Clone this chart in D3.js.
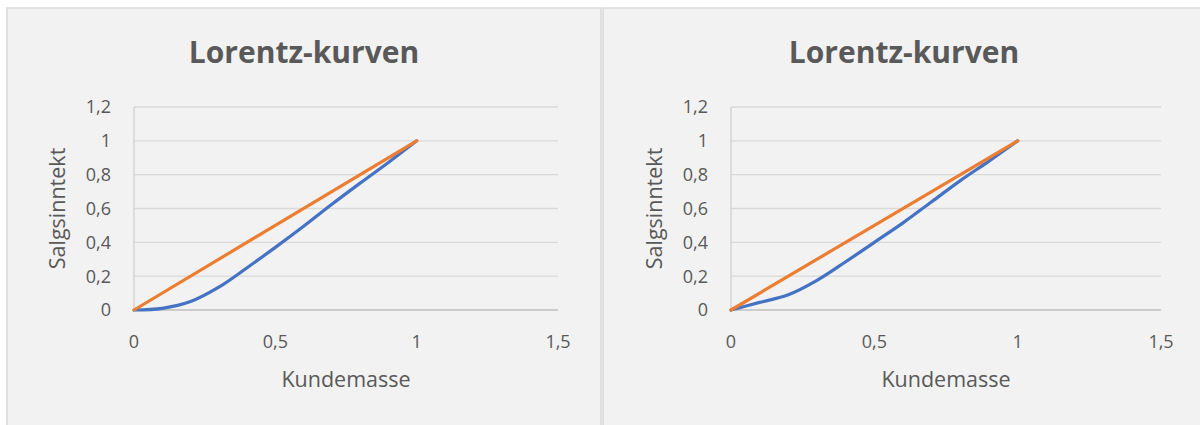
<!DOCTYPE html>
<html>
<head>
<meta charset="utf-8">
<script src="https://cdn.jsdelivr.net/npm/d3@7"></script>
<style>
  html, body { margin: 0; padding: 0; background: #ffffff; }
  svg { display: block; }
  text { font-family: "Open Sans", "Noto Sans", sans-serif; fill: #595959; }
</style>
</head>
<body>
<script>
// ---- Data ----
const chartTitle = "Lorentz-kurven";
const xAxisTitle = "Kundemasse";
const yAxisTitle = "Salgsinntekt";
const xTicks = [0, 0.5, 1, 1.5];
const yTicks = [0, 0.2, 0.4, 0.6, 0.8, 1, 1.2];

// Left chart: Lorenz curve (blue)
const leftCurveX = [0, 0.1, 0.2, 0.3, 0.4, 0.5, 0.6, 0.7, 0.8, 0.9, 1];
const leftCurveY = [0, 0.01, 0.05, 0.135, 0.25, 0.37, 0.495, 0.625, 0.75, 0.872, 1];
// Right chart: Lorenz curve (blue)
const rightCurveX = [0, 0.1, 0.2, 0.3, 0.4, 0.5, 0.6, 0.7, 0.8, 0.9, 1];
const rightCurveY = [0, 0.045, 0.09, 0.175, 0.285, 0.4, 0.515, 0.64, 0.765, 0.88, 1];
// Equality line (orange)
const equalX = [0, 1];
const equalY = [0, 1];

const W = 1200, H = 425;
const svg = d3.select("body").append("svg").attr("width", W).attr("height", H);
svg.append("rect").attr("width", W).attr("height", H).attr("fill", "#ffffff");

const fmt = v => String(v).replace(".", ",");

function drawChart(panel, plot, curveX, curveY) {
  const g = svg.append("g");
  g.append("rect")
    .attr("x", panel.x).attr("y", panel.y)
    .attr("width", panel.w).attr("height", panel.h)
    .attr("fill", "#f2f2f2").attr("stroke", "#d9d9d9").attr("stroke-width", 1.5);

  const x = d3.scaleLinear().domain([0, 1.5]).range([plot.x0, plot.x1]);
  const y = d3.scaleLinear().domain([0, 1.2]).range([plot.y0, plot.y1]);

  // gridlines
  g.append("g").selectAll("line").data(yTicks.filter(t => t > 0)).join("line")
    .attr("x1", x(0)).attr("x2", x(1.5))
    .attr("y1", d => y(d)).attr("y2", d => y(d))
    .attr("stroke", "#d9d9d9").attr("stroke-width", 1.3);

  // y axis line
  g.append("line").attr("x1", x(0)).attr("x2", x(0))
    .attr("y1", y(0)).attr("y2", y(1.2))
    .attr("stroke", "#d0d0d0").attr("stroke-width", 1.3);
  // x axis line
  g.append("line").attr("x1", x(0)).attr("x2", x(1.5))
    .attr("y1", y(0)).attr("y2", y(0))
    .attr("stroke", "#bfbfbf").attr("stroke-width", 1.5);

  // y tick labels
  g.append("g").selectAll("text").data(yTicks).join("text")
    .attr("x", x(0) - 23).attr("y", d => y(d))
    .attr("dy", "0.36em").attr("text-anchor", "end")
    .attr("font-size", 18).text(fmt);

  // x tick labels
  g.append("g").selectAll("text").data(xTicks).join("text")
    .attr("x", d => x(d)).attr("y", plot.y0 + 38)
    .attr("text-anchor", "middle")
    .attr("font-size", 18).text(fmt);

  // title
  g.append("text")
    .attr("x", panel.x + panel.titleCx).attr("y", 63)
    .attr("text-anchor", "middle")
    .attr("font-size", 30).attr("font-weight", "bold")
    .text(chartTitle);

  // axis titles
  g.append("text")
    .attr("x", (x(0) + x(1.5)) / 2).attr("y", 387)
    .attr("text-anchor", "middle").attr("font-size", 21.5)
    .text(xAxisTitle);
  g.append("text")
    .attr("transform", `translate(${x(0) - 69},${(y(0) + y(1.2)) / 2}) rotate(-90)`)
    .attr("text-anchor", "middle").attr("font-size", 21.5)
    .text(yAxisTitle);

  const line = d3.line().x(d => x(d[0])).y(d => y(d[1]))
    .curve(d3.curveCatmullRom.alpha(0.5));

  g.append("path").datum(curveX.map((v, i) => [v, curveY[i]]))
    .attr("d", line).attr("fill", "none")
    .attr("stroke", "#4472C4").attr("stroke-width", 3.2)
    .attr("stroke-linecap", "round");
  g.append("path").datum(equalX.map((v, i) => [v, equalY[i]]))
    .attr("d", line).attr("fill", "none")
    .attr("stroke", "#ED7D31").attr("stroke-width", 3.2)
    .attr("stroke-linecap", "round");
}

drawChart({ x: 7, y: 8, w: 594, h: 430, titleCx: 297 },
  { x0: 134, x1: 558, y0: 310, y1: 107 }, leftCurveX, leftCurveY);
drawChart({ x: 603, y: 8, w: 610, h: 430, titleCx: 301 },
  { x0: 731, x1: 1161, y0: 310, y1: 107 }, rightCurveX, rightCurveY);
</script>
</body>
</html>
